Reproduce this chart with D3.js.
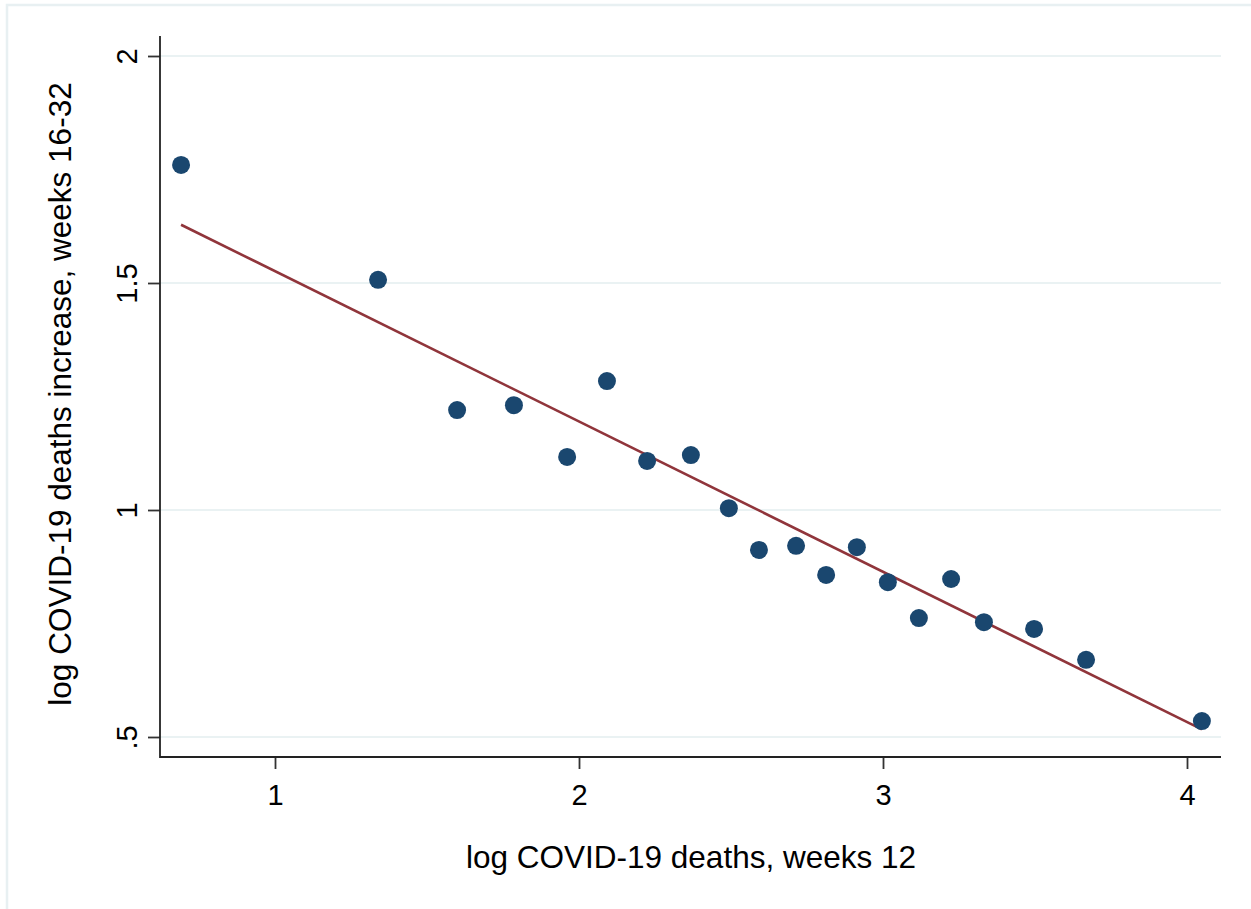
<!DOCTYPE html>
<html>
<head>
<meta charset="utf-8">
<script src="https://cdn.jsdelivr.net/npm/d3@7"></script>
<style>
  body { margin: 0; background: #fff; }
  svg { display: block; font-family: Arial, "Liberation Sans", sans-serif; }
</style>
</head>
<body>
<svg width="1251" height="909"></svg>
<script>
// binned means: log deaths week 12 vs log increase weeks 16-32
var binX = [0.691, 1.339, 1.599, 1.786, 1.961, 2.092, 2.224, 2.368, 2.493, 2.592,
            2.714, 2.813, 2.914, 3.016, 3.118, 3.224, 3.332, 3.497, 3.668, 4.049];
var binY = [1.760, 1.507, 1.220, 1.231, 1.117, 1.284, 1.108, 1.121, 1.004, 0.912,
            0.921, 0.857, 0.918, 0.841, 0.762, 0.848, 0.753, 0.738, 0.670, 0.535];

// linear fit (estimated on the underlying observations)
var fitIntercept = 1.857;
var fitSlope = -0.331;

var xTicks = [1, 2, 3, 4];
var yTicks = [0.5, 1, 1.5, 2];

var xTitle = "log COVID-19 deaths, weeks 12";
var yTitle = "log COVID-19 deaths increase, weeks 16-32";

var svg = d3.select("svg");

// plot region: axes run a bit past the data range
var plot = { left: 160, right: 1221, top: 36, bottom: 757 };

var x = d3.scaleLinear().domain([1, 4]).range([275, 1187]);
var y = d3.scaleLinear().domain([0.5, 2]).range([737, 56]);

// stata-ish labels: ".5" instead of "0.5"
function fmt(v) {
  return String(v).replace(/^0\./, ".");
}

// light outer frame
svg.append("rect")
  .attr("x", 7).attr("y", 5)
  .attr("width", 1300).attr("height", 1000)
  .attr("fill", "none")
  .attr("stroke", "#e8f0f2")
  .attr("stroke-width", 2.5);

// horizontal grid
svg.append("g").selectAll("line").data(yTicks).enter().append("line")
  .attr("x1", plot.left).attr("x2", plot.right)
  .attr("y1", function(d) { return y(d); })
  .attr("y2", function(d) { return y(d); })
  .attr("stroke", "#eaf2f3")
  .attr("stroke-width", 2);

// x axis
var gx = svg.append("g")
  .attr("transform", "translate(0," + plot.bottom + ")")
  .call(d3.axisBottom(x).tickValues(xTicks).tickSize(12).tickPadding(15).tickFormat(fmt));
gx.select(".domain").remove();
gx.selectAll(".tick line").attr("stroke", "#333").attr("stroke-width", 1.8);
gx.selectAll(".tick text")
  .attr("fill", "#000")
  .style("font-size", "29px")
  .style("font-family", "Arial, 'Liberation Sans', sans-serif");

// y axis, labels turned like the title
var gy = svg.append("g")
  .attr("transform", "translate(" + plot.left + ",0)")
  .call(d3.axisLeft(y).tickValues(yTicks).tickSize(12).tickFormat(fmt));
gy.select(".domain").remove();
gy.selectAll(".tick line").attr("stroke", "#333").attr("stroke-width", 1.8);
gy.selectAll(".tick text")
  .attr("x", null).attr("dy", null)
  .attr("transform", "translate(-23,0) rotate(-90)")
  .attr("text-anchor", "middle")
  .attr("fill", "#000")
  .style("font-size", "29px")
  .style("font-family", "Arial, 'Liberation Sans', sans-serif");

// axis lines
svg.append("line")
  .attr("x1", plot.left).attr("x2", plot.right)
  .attr("y1", plot.bottom).attr("y2", plot.bottom)
  .attr("stroke", "#222").attr("stroke-width", 1.8);
svg.append("line")
  .attr("x1", plot.left).attr("x2", plot.left)
  .attr("y1", plot.top).attr("y2", plot.bottom + 0.9)
  .attr("stroke", "#222").attr("stroke-width", 1.8);

// fit line over the data range
var fitX = d3.extent(binX);
var fitPts = fitX.map(function(v) { return [v, fitIntercept + fitSlope * v]; });
svg.append("path")
  .datum(fitPts)
  .attr("fill", "none")
  .attr("stroke", "#90353b")
  .attr("stroke-width", 2.6)
  .attr("d", d3.line()
    .x(function(d) { return x(d[0]); })
    .y(function(d) { return y(d[1]); }));

// scatter
var pts = binX.map(function(v, i) { return { x: v, y: binY[i] }; });
svg.append("g").selectAll("circle").data(pts).enter().append("circle")
  .attr("cx", function(d) { return x(d.x); })
  .attr("cy", function(d) { return y(d.y); })
  .attr("r", 9)
  .attr("fill", "#1a476f");

// titles
svg.append("text")
  .attr("x", 691).attr("y", 868)
  .attr("text-anchor", "middle")
  .style("font-size", "31.5px")
  .text(xTitle);

svg.append("text")
  .attr("transform", "translate(71,394) rotate(-90)")
  .attr("text-anchor", "middle")
  .style("font-size", "31.5px")
  .text(yTitle);
</script>
</body>
</html>
